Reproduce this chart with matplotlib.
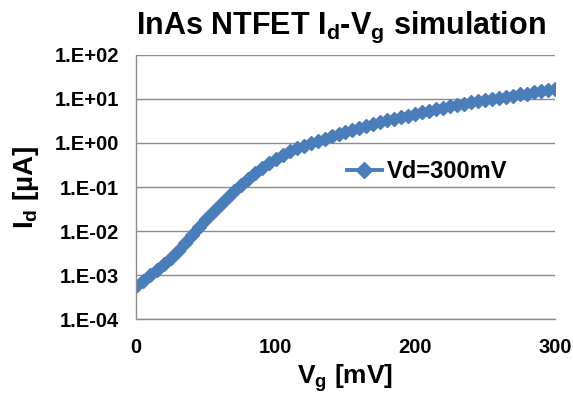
import matplotlib
matplotlib.use("Agg")
import matplotlib.pyplot as plt
import numpy as np

plt.rcParams["font.family"] = ["Liberation Sans", "DejaVu Sans"]
plt.rcParams["font.weight"] = "bold"
plt.rcParams["mathtext.fontset"] = "custom"
plt.rcParams["mathtext.rm"] = "Liberation Sans:bold"
plt.rcParams["mathtext.bf"] = "Liberation Sans:bold"
plt.rcParams["mathtext.default"] = "bf"

# gate sweep, 5 mV steps
vg_mv = list(range(0, 301, 5))
# drain current in uA at Vd = 300 mV
id_ua = [
    5.89e-4, 7.59e-4, 1.00e-3, 1.32e-3, 1.78e-3, 2.51e-3, 3.63e-3, 5.37e-3,
    8.13e-3, 1.23e-2, 1.86e-2, 2.75e-2, 3.98e-2, 5.75e-2, 8.13e-2, 0.112,
    0.151, 0.204, 0.269, 0.347, 0.437, 0.537, 0.646, 0.759, 0.871, 1.00,
    1.12, 1.26, 1.41, 1.58, 1.78, 1.95, 2.19, 2.40, 2.69, 2.95,
    3.24, 3.55, 3.89, 4.17, 4.57, 5.01, 5.37, 5.89, 6.31, 6.92,
    7.41, 7.76, 8.32, 8.91, 9.33, 10.0, 10.5, 11.2, 11.7, 12.6,
    13.2, 14.1, 14.8, 15.8, 16.6,
]
y_ticks = [1e-4, 1e-3, 1e-2, 1e-1, 1e0, 1e1, 1e2]
y_tick_labels = ["1.E-04", "1.E-03", "1.E-02", "1.E-01", "1.E+00", "1.E+01", "1.E+02"]
x_ticks = [0, 100, 200, 300]

blue = "#4A7EBB"
grid_gray = "#8C8C8C"

fig = plt.figure(figsize=(5.73, 3.94), dpi=100)
ax = fig.add_axes([0.2373, 0.1891, 0.7313, 0.6721])

ax.plot(vg_mv, id_ua, color=blue, linewidth=5, marker="D", markersize=7.5,
        markerfacecolor=blue, markeredgecolor=blue, label="Vd=300mV")

ax.set_yscale("log")
ax.set_xlim(0, 300)
ax.set_ylim(1e-4, 1e2)
ax.set_yticks(y_ticks)
ax.set_yticklabels(y_tick_labels)
ax.minorticks_off()
ax.set_xticks(x_ticks)
ax.tick_params(length=0, labelsize=14.5)
ax.tick_params(axis="y", pad=12)
ax.tick_params(axis="x", pad=13)

ax.yaxis.grid(True, color=grid_gray, linewidth=1.0)
ax.set_axisbelow(True)
for side in ["top", "right"]:
    ax.spines[side].set_visible(False)
for side in ["left", "bottom"]:
    ax.spines[side].set_color(grid_gray)
    ax.spines[side].set_linewidth(1.0)

ax.set_title(r"InAs NTFET I$_d$-V$_g$ simulation", fontsize=22, fontweight="bold",
             pad=15, x=0.488)
ax.set_xlabel(r"V$_g$ [mV]", fontsize=19, fontweight="bold", labelpad=4)
ax.set_ylabel(r"I$_d$ [µA]", fontsize=20, fontweight="bold", labelpad=10)

leg = ax.legend(loc="center left", bbox_to_anchor=(0.48, 0.557), frameon=False,
                fontsize=17, handlelength=1.5, handletextpad=0.2, borderaxespad=0,
                markerscale=1.15)
leg.get_lines()[0].set_linewidth(2.8)

fig.savefig("out.png", dpi=100)
